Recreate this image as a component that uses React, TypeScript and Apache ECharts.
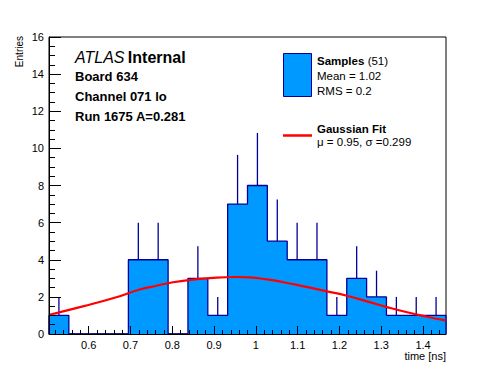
import React, { useEffect, useRef } from "react";
import * as echarts from "echarts";

// Histogram: 20 bins from 0.505 to 1.455 (time [ns])
const binMin = 0.505;
const binWidth = 0.0475;
const counts = [1, 0, 0, 0, 4, 4, 0, 3, 1, 7, 8, 5, 4, 4, 1, 3, 2, 1, 1, 1];
const upperErrors = [1, 0, 0, 0, 2, 2, 0, 1.73, 1, 2.65, 2.83, 2.24, 2, 2, 1, 1.73, 1.41, 1, 1, 1];

// Gaussian fit curve
const fitX = [0.506, 0.586, 0.666, 0.722, 0.762, 0.802, 0.85, 0.906, 0.95, 0.986, 1.026, 1.066, 1.106, 1.17, 1.218, 1.266, 1.314, 1.362, 1.41, 1.454];
const fitY = [1.04, 1.49, 1.98, 2.4, 2.6, 2.79, 2.93, 3.04, 3.07, 3.05, 2.94, 2.79, 2.61, 2.3, 2.06, 1.76, 1.45, 1.17, 0.93, 0.73];

const xTickLabels = [0.6, 0.7, 0.8, 0.9, 1, 1.1, 1.2, 1.3, 1.4];
const yMax = 16;

const FONT = "'Liberation Sans', Arial, Helvetica, sans-serif";
const FILL = "#0099ff";
const EDGE = "#000099";

export default function App() {
  const ref = useRef<HTMLDivElement>(null);
  useEffect(() => {
    if (!ref.current) return;
    const chart = echarts.init(ref.current, undefined, { renderer: "svg" });
    const xMax = binMin + binWidth * counts.length;
    const edges = counts.map((_, i) => binMin + i * binWidth);
    const errData = counts.map((c, i) => [edges[i] + binWidth / 2, c, upperErrors[i]]);
    const outline: number[][] = [];
    counts.forEach((c, i) => {
      outline.push([edges[i], i === 0 ? 0 : counts[i - 1]]);
      outline.push([edges[i], c]);
    });
    outline.push([xMax, counts[counts.length - 1]]);
    outline.push([xMax, 0]);
    const minorTicks: number[] = [];
    for (let k = 26; k <= 72; k++) minorTicks.push(Math.round(k * 2) / 100);

    chart.setOption({
      animation: false,
      backgroundColor: "#fff",
      grid: { left: 49, right: 50, top: 37, bottom: 38, show: true, borderColor: "#000", borderWidth: 1, backgroundColor: "transparent" },
      xAxis: [
        {
          type: "value", min: binMin, max: xMax, position: "bottom", z: 10,
          axisLine: { show: true, lineStyle: { color: "#000" } },
          axisTick: { show: true, inside: true, length: 8, customValues: xTickLabels, lineStyle: { color: "#000" } },
          axisLabel: { show: true, customValues: xTickLabels, color: "#000", fontSize: 11, fontFamily: FONT, margin: 5 },
          splitLine: { show: false },
        },
        {
          type: "value", min: binMin, max: xMax, position: "bottom", z: 10,
          axisLine: { show: false },
          axisTick: { show: true, inside: true, length: 4, customValues: minorTicks, lineStyle: { color: "#000" } },
          axisLabel: { show: false },
          splitLine: { show: false },
        },
      ],
      yAxis: {
        type: "value", min: 0, max: yMax, interval: 2, z: 10,
        axisLine: { show: true, lineStyle: { color: "#000" } },
        axisTick: { show: true, inside: true, length: 12, lineStyle: { color: "#000" } },
        minorTick: { show: true, splitNumber: 4, length: 6, lineStyle: { color: "#000" } },
        axisLabel: { color: "#000", fontSize: 11, fontFamily: FONT, margin: 5 },
        splitLine: { show: false },
      },
      series: [
        {
          type: "line",
          xAxisIndex: 0,
          z: 2,
          data: outline,
          symbol: "none",
          lineStyle: { color: EDGE, width: 1.3 },
          areaStyle: { color: FILL, opacity: 1, origin: 0 },
        },
        {
          type: "custom",
          xAxisIndex: 0,
          z: 3,
          encode: { x: 0, y: [1, 2] },
          data: errData,
          renderItem: (params: any, api: any) => {
            const x = api.value(0), c = api.value(1), e = api.value(2);
            if (!(e > 0)) return { type: "group", children: [] };
            const p0 = api.coord([x, c]);
            const p1 = api.coord([x, c + e]);
            return { type: "line", shape: { x1: p0[0], y1: p0[1], x2: p1[0], y2: p1[1] }, style: { stroke: EDGE, lineWidth: 1.3 } };
          },
        },
        {
          type: "line",
          xAxisIndex: 0,
          z: 4,
          data: fitX.map((x, i) => [x, fitY[i]]),
          smooth: true,
          symbol: "none",
          lineStyle: { color: "#ff0000", width: 2.2 },
        },
      ],
      graphic: [
        { type: "text", x: 19, y: 36, rotation: Math.PI / 2, style: { text: "Entries", font: `10px ${FONT}`, fill: "#000", textAlign: "right", textVerticalAlign: "middle" } },
        { type: "text", x: 446, y: 355.5, style: { text: "time [ns]", font: `11px ${FONT}`, fill: "#000", textAlign: "right", textVerticalAlign: "middle" } },
        {
          type: "text", x: 75, y: 57,
          style: {
            text: "{a|ATLAS} {b|Internal}", textVerticalAlign: "middle",
            rich: {
              a: { fontFamily: FONT, fontSize: 16, fontStyle: "italic", fill: "#000" },
              b: { fontFamily: FONT, fontSize: 16, fontWeight: "bold", fill: "#000" },
            },
          },
        },
        { type: "text", x: 75, y: 76, style: { text: "Board 634", font: `bold 13px ${FONT}`, fill: "#000", textVerticalAlign: "middle" } },
        { type: "text", x: 75, y: 96.5, style: { text: "Channel 071 lo", font: `bold 13px ${FONT}`, fill: "#000", textVerticalAlign: "middle" } },
        { type: "text", x: 75, y: 116, style: { text: "Run 1675 A=0.281", font: `bold 13px ${FONT}`, fill: "#000", textVerticalAlign: "middle" } },
        // legend
        { type: "rect", shape: { x: 283.5, y: 53.5, width: 28, height: 43 }, style: { fill: FILL, stroke: EDGE, lineWidth: 1 } },
        {
          type: "text", x: 317, y: 61,
          style: {
            text: "{a|Samples} {b|(51)}", textVerticalAlign: "middle",
            rich: {
              a: { fontFamily: FONT, fontSize: 11.5, fontWeight: "bold", fill: "#000" },
              b: { fontFamily: FONT, fontSize: 11.5, fill: "#000" },
            },
          },
        },
        { type: "text", x: 317, y: 76, style: { text: "Mean = 1.02", font: `11.5px ${FONT}`, fill: "#000", textVerticalAlign: "middle" } },
        { type: "text", x: 317, y: 90.5, style: { text: "RMS = 0.2", font: `11.5px ${FONT}`, fill: "#000", textVerticalAlign: "middle" } },
        { type: "line", shape: { x1: 283, y1: 135.5, x2: 312, y2: 135.5 }, style: { stroke: "#ff0000", lineWidth: 2.5 } },
        { type: "text", x: 317, y: 129, style: { text: "Gaussian Fit", font: `bold 11.5px ${FONT}`, fill: "#000", textVerticalAlign: "middle" } },
        { type: "text", x: 317, y: 141.5, style: { text: "\u03bc = 0.95, \u03c3 =0.299", font: `11.5px ${FONT}`, fill: "#000", textVerticalAlign: "middle" } },
      ],
    });
    return () => chart.dispose();
  }, []);
  return <div ref={ref} style={{ position: "fixed", left: 0, top: 0, width: 496, height: 372, background: "#fff" }} />;
}
